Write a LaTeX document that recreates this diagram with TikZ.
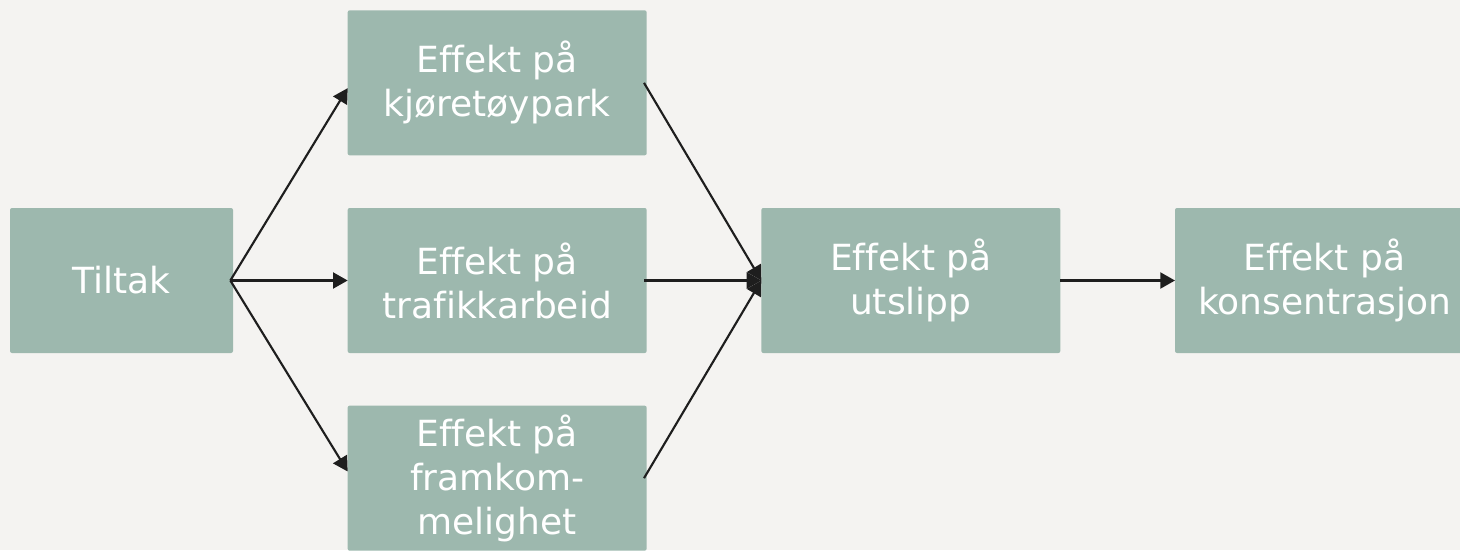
\documentclass[tikz,border=0pt]{standalone}
\usepackage{fontspec}
\setmainfont[Ligatures={NoCommon}]{DejaVu Sans}
\usetikzlibrary{positioning,arrows.meta}
\definecolor{bakgrunn}{RGB}{244,243,241}
\definecolor{boksfarge}{RGB}{157,184,174}
\definecolor{pil}{RGB}{30,30,30}
\begin{document}
\begin{tikzpicture}[
boks/.style={fill=boksfarge,rounded corners=1.5pt,text=white,align=center,
  minimum width=224.25pt,minimum height=108.75pt,inner sep=0pt,outer sep=0pt,
  font=\fontsize{27}{33}\selectfont},
pilen/.style={draw=pil,line width=1.6pt,-{Triangle[length=11pt,width=12pt]}}]
\fill[bakgrunn] (0,0) rectangle (1095pt,-412.5pt);
\useasboundingbox (0,0) rectangle (1095pt,-412.5pt);
\node[boks,minimum width=167.25pt] (tiltak) at (91.125pt,-210.375pt) {Tiltak};
\node[boks,right=86pt of tiltak] (trafikk) {Effekt på\\trafikkarbeid};
\node[boks,above=39.5pt of trafikk] (kjoretoy) {Effekt på\\kjøretøypark};
\node[boks,below=39.5pt of trafikk] (framkom) {Effekt på\\framkom-\\melighet};
\node[boks,right=86pt of trafikk] (utslipp) {Effekt på\\utslipp};
\node[boks,right=86pt of utslipp] (konsentrasjon) {Effekt på\\konsentrasjon};
\draw[pilen] ([xshift=-2pt]tiltak.east) -- ([yshift=-4pt]kjoretoy.west);
\draw[pilen] ([xshift=-2pt]tiltak.east) -- (trafikk.west);
\draw[pilen] ([xshift=-2pt]tiltak.east) -- ([yshift=5pt]framkom.west);
\draw[pilen] ([xshift=-2pt]kjoretoy.east) -- (utslipp.west);
\draw[pilen] ([xshift=-2pt]trafikk.east) -- (utslipp.west);
\draw[pilen] ([xshift=-2pt]framkom.east) -- (utslipp.west);
\draw[pilen] (utslipp.east) -- (konsentrasjon.west);
\end{tikzpicture}
\end{document}
